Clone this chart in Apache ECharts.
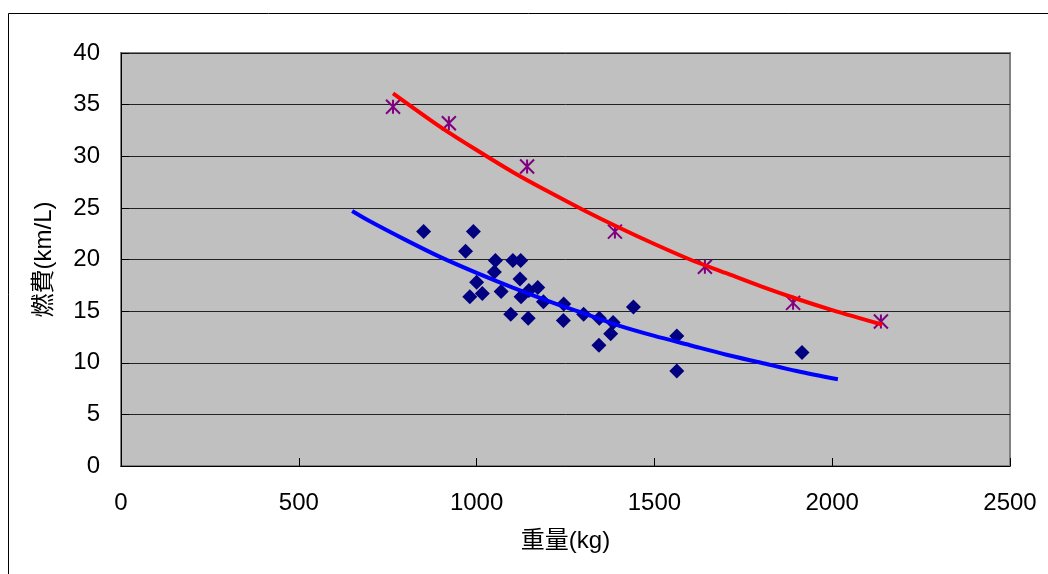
<!DOCTYPE html>
<html>
<head>
<meta charset="utf-8">
<script src="https://cdn.jsdelivr.net/npm/echarts@6/dist/echarts.min.js"></script>
<style>
  html, body { margin: 0; padding: 0; background: #fff; }
  #chart { width: 1048px; height: 574px; }
</style>
</head>
<body>
<div id="chart"></div>
<script>
// 青のひし形（重量 kg, 燃費 km/L）
var carWeight = [851, 991, 969, 1053, 1102, 1124, 1050, 1122, 1000, 981, 1016, 1069, 1125, 1147,
  1172, 1188, 1096, 1145, 1245, 1244, 1301, 1345, 1384, 1377, 1344, 1441, 1563, 1563, 1915];
var carFuel = [22.7, 22.7, 20.8, 19.9, 19.9, 19.9, 18.8, 18.1, 17.8, 16.4, 16.7, 16.9, 16.4, 17.0,
  17.3, 15.9, 14.7, 14.3, 15.7, 14.1, 14.7, 14.3, 13.9, 12.8, 11.7, 15.4, 12.6, 9.2, 11.0];

// 紫の星
var hybridWeight = [765, 922, 1142, 1389, 1642, 1890, 2137];
var hybridFuel = [34.8, 33.2, 29.0, 22.7, 19.3, 15.8, 14.0];

// 近似曲線
var trendCarX = [650, 700, 800, 900, 1000, 1100, 1200, 1300, 1400, 1500, 1600, 1700, 1800, 1900, 2016];
var trendCarY = [24.7, 23.7, 21.9, 20.2, 18.7, 17.3, 16.0, 14.8, 13.6, 12.6, 11.7, 10.8, 10.0, 9.2, 8.4];
var trendHybridX = [765, 900, 1000, 1100, 1200, 1300, 1400, 1500, 1600, 1700, 1800, 1900, 2000, 2140];
var trendHybridY = [36.1, 32.8, 30.6, 28.5, 26.6, 24.8, 23.1, 21.5, 20.0, 18.7, 17.4, 16.2, 15.1, 13.7];

function pairs(xs, ys) {
  return xs.map(function (x, i) { return [x, ys[i]]; });
}

var font = "'Liberation Sans', 'Noto Sans CJK JP', sans-serif";
var chart = echarts.init(document.getElementById("chart"));
chart.setOption({
  animation: false,
  backgroundColor: "#fff",
  textStyle: { fontFamily: font },
  graphic: [
    {
      type: "rect",
      shape: { x: 8.5, y: 13.5, width: 2000, height: 2000 },
      style: { fill: "none", stroke: "#000", lineWidth: 1 },
      silent: true
    }
  ],
  grid: {
    left: 121,
    right: 38,
    top: 53,
    bottom: 108,
    show: true,
    backgroundColor: "#c0c0c0",
    borderColor: "#808080",
    borderWidth: 2
  },
  xAxis: {
    type: "value",
    min: 0,
    max: 2500,
    interval: 500,
    name: "重量(kg)",
    nameLocation: "middle",
    nameGap: 63,
    nameTextStyle: { color: "#000", fontSize: 24, fontFamily: font },
    axisLine: { show: true, lineStyle: { color: "#000", width: 1 } },
    axisTick: { show: true, inside: true, length: 8, lineStyle: { color: "#000" } },
    axisLabel: {
      color: "#000", fontSize: 24, margin: 25, fontFamily: font,
      formatter: function (v) { return String(v); }
    },
    splitLine: { show: false }
  },
  yAxis: {
    type: "value",
    min: 0,
    max: 40,
    interval: 5,
    name: "燃費(km/L)",
    nameLocation: "middle",
    nameRotate: 90,
    nameGap: 65,
    nameTextStyle: { color: "#000", fontSize: 24, fontFamily: font },
    axisLine: { show: true, lineStyle: { color: "#000", width: 1 } },
    axisTick: { show: true, inside: true, length: 8, lineStyle: { color: "#000" } },
    axisLabel: { color: "#000", fontSize: 24, margin: 21, fontFamily: font },
    splitLine: { show: true, lineStyle: { color: "#222", width: 1 } }
  },
  series: [
    {
      type: "scatter",
      data: pairs(carWeight, carFuel),
      symbol: "diamond",
      symbolSize: 15,
      itemStyle: { color: "#000080", opacity: 1 },
      z: 2
    },
    {
      type: "scatter",
      data: pairs(hybridWeight, hybridFuel),
      symbol: "path://M0,0L10,10M10,0L0,10M5,0L5,10",
      symbolSize: 14,
      itemStyle: { color: "none", borderColor: "#800080", borderWidth: 2, opacity: 1 },
      z: 2
    },
    {
      type: "line",
      data: pairs(trendCarX, trendCarY),
      smooth: 0.3,
      showSymbol: false,
      lineStyle: { color: "#0000ff", width: 4 },
      z: 3
    },
    {
      type: "line",
      data: pairs(trendHybridX, trendHybridY),
      smooth: 0.3,
      showSymbol: false,
      lineStyle: { color: "#ff0000", width: 4 },
      z: 3
    }
  ]
});
</script>
</body>
</html>
